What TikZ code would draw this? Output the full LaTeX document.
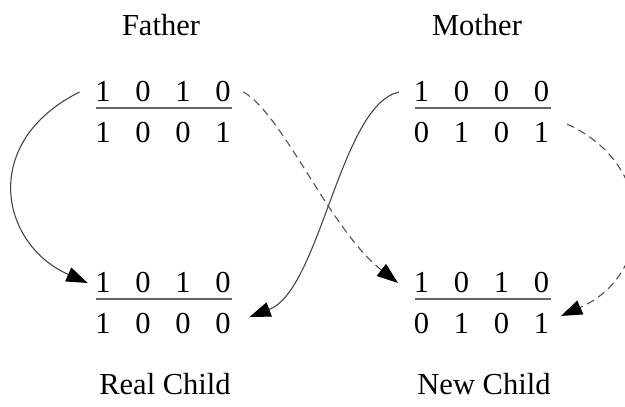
\documentclass[tikz,border=0pt]{standalone}
\usepackage{fontspec}
\setmainfont{Liberation Serif}
\usetikzlibrary{arrows.meta,calc}
\newcommand{\drow}[4]{\makebox[22.7pt]{#1}\makebox[22.7pt]{#2}\makebox[22.7pt]{#3}\makebox[22.7pt]{#4}}
\tikzset{
  lbl/.style={anchor=base,inner sep=0pt,font=\fontsize{17.3}{20}\selectfont},
  digits/.style={anchor=center,inner sep=0pt,font=\fontsize{17.3}{20}\selectfont},
  fracline/.style={draw=black!60,line width=0.9pt},
  solidarrow/.style={draw=black!75,line width=0.6pt,-{Triangle[length=12pt,width=8.5pt,color=black]}},
  dasharrow/.style={draw=black!70,line width=0.6pt,dash pattern=on 4.5pt off 2.8pt,-{Triangle[length=12pt,width=8.5pt,color=black]}}
}
\begin{document}
\begin{tikzpicture}[x=0.5669pt,y=-0.5669pt]
\clip (0,0) rectangle (625,407);
% labels
\node[lbl] (father) at (161,36) {Father};
\node[lbl] (mother) at (477,36) {Mother};
\node[lbl] (realchild) at (165,395) {Real Child};
\node[lbl] (newchild) at (484,395) {New Child};
% blocks
\node[digits] (ftop) at (163,92) {\drow1010};
\node[digits] (fbot) at (163,133) {\drow1001};
\node[digits] (mtop) at (481.5,92) {\drow1000};
\node[digits] (mbot) at (481.5,133) {\drow0101};
\node[digits] (rtop) at (163,283) {\drow1010};
\node[digits] (rbot) at (163,324) {\drow1000};
\node[digits] (ntop) at (481.5,283) {\drow1010};
\node[digits] (nbot) at (481.5,324) {\drow0101};
\draw[fracline] (96,108) -- (232,108);
\draw[fracline] (415,108) -- (551,108);
\draw[fracline] (96,299) -- (232,299);
\draw[fracline] (415,299) -- (551,299);
% connectors
\draw[solidarrow] ($(ftop.west)+(-3,0)$) .. controls +(-100,50) and +(-88,-39) .. ($(rtop.west)+(5,0)$);
\draw[solidarrow] ($(mtop.west)+(-2,0)$) .. controls +(-59,13) and +(71,-27) .. ($(rbot.east)+(6,-7)$);
\draw[dasharrow] (ftop.east) .. controls +(40,23) and +(-68,-53) .. ($(ntop.west)+(-3,0)$);
\draw[dasharrow] ($(mbot.east)+(5,-9)$) .. controls +(92,42) and +(93,-41) .. ($(nbot.east)+(-1,-8)$);
\end{tikzpicture}
\end{document}
